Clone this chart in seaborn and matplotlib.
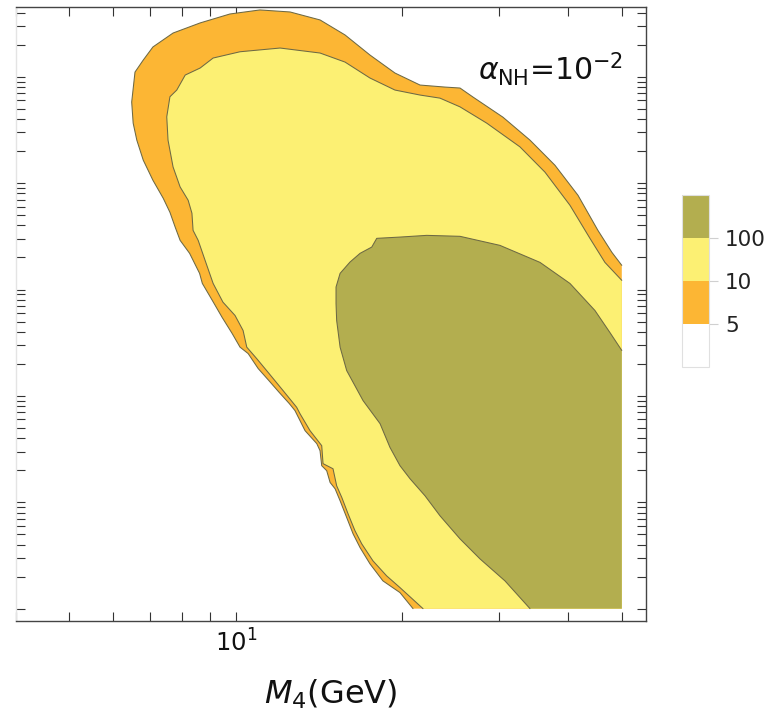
import numpy as np
import matplotlib
matplotlib.use("Agg")
import matplotlib.pyplot as plt
import matplotlib.colors as mcolors
import matplotlib.colorbar as mcolorbar
from matplotlib.ticker import LogLocator, NullFormatter, FixedLocator
import seaborn as sns

# ---------------- data ----------------
# M4 in GeV, y given as log10 of the (unlabelled) vertical quantity
outer_m4 = [20.94, 19.83, 18.47, 17.50, 16.79, 16.31, 15.88, 15.45, 15.13, 14.82,
            14.61, 14.31, 14.21, 14.02, 13.35, 12.80, 12.50, 11.98, 11.48, 10.98,
            10.53, 10.18, 9.85, 9.45, 9.07, 8.70, 8.60, 8.25, 7.93, 7.77,
            7.60, 7.39, 7.08, 6.80, 6.62, 6.52, 6.48, 6.57, 6.80, 7.08,
            7.70, 8.62, 9.76, 11.06, 12.54, 14.21, 15.77, 17.50, 19.42, 21.56,
            23.92, 25.47, 26.89, 30.46, 34.10, 37.84, 41.65, 45.26, 47.98, 50.0]
outer_logy = [-9.0, -8.849, -8.739, -8.579, -8.426, -8.297, -8.143, -7.986, -7.873, -7.814,
              -7.703, -7.656, -7.515, -7.449, -7.327, -7.138, -7.072, -6.966, -6.856, -6.743,
              -6.602, -6.542, -6.413, -6.263, -6.103, -5.943, -5.848, -5.660, -5.538, -5.415,
              -5.274, -5.142, -4.973, -4.784, -4.596, -4.436, -4.238, -3.956, -3.843, -3.720,
              -3.589, -3.494, -3.410, -3.372, -3.391, -3.466, -3.607, -3.796, -3.965, -4.078,
              -4.097, -4.106, -4.191, -4.380, -4.596, -4.832, -5.114, -5.444, -5.651, -5.773]

inner_m4 = [21.83, 19.83, 18.76, 17.72, 16.91, 16.44, 15.97, 15.56, 15.23, 15.00,
            14.39, 14.31, 13.63, 13.07, 12.89, 12.18, 11.44, 10.91, 10.47, 10.31,
            9.97, 9.48, 9.10, 8.80, 8.55, 8.37, 8.33, 8.20, 7.93, 7.70,
            7.54, 7.50, 7.60, 7.82, 8.10, 8.62, 9.10, 10.18, 12.03, 14.21,
            15.77, 17.50, 19.42, 21.56, 23.43, 25.47, 28.47, 32.70, 36.30, 40.28,
            43.78, 46.60, 50.0]
inner_logy = [-9.0, -8.802, -8.692, -8.551, -8.391, -8.268, -8.108, -7.955, -7.845, -7.685,
              -7.637, -7.468, -7.327, -7.167, -7.107, -6.950, -6.778, -6.649, -6.542, -6.385,
              -6.244, -6.119, -5.943, -5.726, -5.538, -5.444, -5.283, -5.161, -5.036, -4.848,
              -4.596, -4.377, -4.188, -4.125, -3.984, -3.918, -3.824, -3.765, -3.730, -3.777,
              -3.862, -4.012, -4.125, -4.172, -4.201, -4.283, -4.436, -4.659, -4.897, -5.208,
              -5.519, -5.745, -5.914]

core_m4 = [34.10, 30.72, 27.68, 25.47, 23.43, 22.01, 20.68, 19.83, 19.02, 18.25,
           17.00, 15.88, 15.45, 15.23, 15.19, 15.19, 15.45, 16.10, 16.79, 17.63,
           18.00, 19.83, 22.17, 25.47, 30.08, 35.55, 40.28, 44.70, 47.58, 50.0]
core_logy = [-9.0, -8.739, -8.532, -8.344, -8.127, -7.939, -7.779, -7.656, -7.484, -7.261,
             -7.044, -6.762, -6.542, -6.291, -6.131, -5.977, -5.848, -5.742, -5.660, -5.601,
             -5.519, -5.507, -5.491, -5.500, -5.585, -5.745, -5.943, -6.197, -6.404, -6.573]

data_m4_max = 50.0
data_logy_min = -9.0

levels = [5, 10, 100]
level_labels = ["5", "10", "100"]
region_colors = ["#ffffff", "#fcb634", "#fcf073", "#b3ae4f"]
annotation = r"$\alpha_{\rm NH}$=10$^{-2}$"
xlabel = r"$M_4$(GeV)"

# ---------------- style ----------------
sns.set_style("ticks")
plt.rcParams['font.family'] = ['DejaVu Sans']
plt.rcParams['mathtext.fontset'] = 'dejavusans'
plt.rcParams['text.color'] = '#111111'
plt.rcParams['axes.labelcolor'] = '#111111'
plt.rcParams['xtick.labelcolor'] = '#111111'
plt.rcParams['ytick.labelcolor'] = '#222222'

fig = plt.figure(figsize=(7.68, 7.11), dpi=100)
ax = fig.add_axes([0.0208, 0.1266, 0.8203, 0.8636])
ax.set_xscale('log')
ax.set_yscale('log')
ax.set_xlim(4.0, 55.3)
ax.set_ylim(10 ** -9.116, 10 ** -3.344)

line_color = "#6d6944"


def region(xs, lys):
    x = list(xs) + [data_m4_max]
    y = list(10.0 ** np.array(lys)) + [10.0 ** data_logy_min]
    return x, y


for (xs, lys), col in zip([(outer_m4, outer_logy), (inner_m4, inner_logy), (core_m4, core_logy)],
                          region_colors[1:]):
    px, py = region(xs, lys)
    ax.fill(px, py, color=col, lw=0, zorder=1)

for xs, lys in [(outer_m4, outer_logy), (inner_m4, inner_logy), (core_m4, core_logy)]:
    sns.lineplot(x=xs, y=10.0 ** np.array(lys), sort=False, estimator=None,
                 color=line_color, lw=0.75, ax=ax, zorder=2)

ax.xaxis.set_major_locator(LogLocator(base=10, numticks=20))
ax.xaxis.set_minor_locator(LogLocator(base=10, subs=np.arange(2, 10), numticks=20))
ax.xaxis.set_minor_formatter(NullFormatter())
ymin_dec = int(data_logy_min)
ax.yaxis.set_major_locator(FixedLocator([10.0 ** e for e in range(ymin_dec, -3)]))
ax.yaxis.set_minor_locator(FixedLocator([m * 10.0 ** e for e in range(ymin_dec, -3)
                                         for m in range(2, 10)]))
ax.yaxis.set_major_formatter(NullFormatter())
ax.yaxis.set_minor_formatter(NullFormatter())
ax.tick_params(which='both', direction='in', top=True, right=True, bottom=True, left=True,
               length=6.5, width=0.8, color='#333333', labelsize=17.5)
ax.tick_params(axis='x', pad=6)

for side in ['top', 'right', 'bottom']:
    ax.spines[side].set_color('#444444')
    ax.spines[side].set_linewidth(1.0)
ax.spines['left'].set_color('#e4e4e4')
ax.spines['left'].set_linewidth(1.0)

ax.set_xlabel(xlabel, fontsize=23, labelpad=15)
ax.set_ylabel("")

ax.text(0.9635, 0.881, annotation, transform=ax.transAxes, ha='right', va='baseline',
        fontsize=21.5)

# ---------------- legend bar ----------------
cax = fig.add_axes([0.888, 0.4838, 0.0352, 0.2419])
cmap = mcolors.ListedColormap(region_colors)
bounds = [1] + levels + [1000]
norm = mcolors.BoundaryNorm(bounds, cmap.N)
cb = mcolorbar.ColorbarBase(cax, cmap=cmap, norm=norm, spacing='uniform',
                            ticks=levels, orientation='vertical')
cb.set_ticklabels(level_labels)
cb.outline.set_edgecolor('#e0e0e0')
cb.outline.set_linewidth(0.8)
cax.minorticks_off()
cax.tick_params(length=6.5, width=0.8, color='#d0d0d0', labelsize=15.5, pad=5)

fig.savefig("out.png", dpi=100)
